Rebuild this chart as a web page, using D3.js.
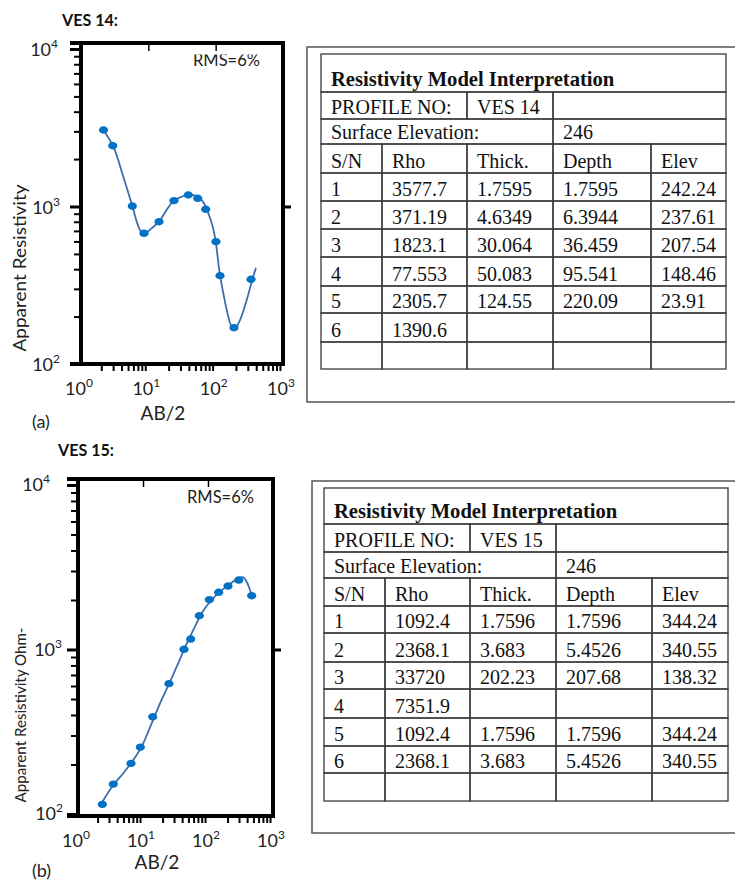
<!DOCTYPE html>
<html>
<head>
<meta charset="utf-8">
<script src="https://cdn.jsdelivr.net/npm/d3@7"></script>
<style>
body { margin: 0; background: #fff; }
</style>
</head>
<body>
<svg id="fig" width="735" height="880"></svg>
<script>
// ---- VES 14 : field data (AB/2, apparent resistivity) ----
const ves14AB  = [2.16, 2.96, 5.78, 8.63, 14.4, 24.0, 39.2, 54.1, 71.1, 101, 116, 187, 335];
const ves14Rho = [3060, 2432, 1007, 676, 801, 1089, 1183, 1127, 960, 598, 364, 170, 345];
// model curve
const ves14ModelAB  = [2.15, 3.02, 4.25, 5.78, 6.86, 7.97, 8.92, 11.2, 14.4, 18.7, 24.0, 31.3, 39.2, 49.3, 58.5, 67.1, 77.8, 90.4, 101, 113, 130, 154, 173, 194, 230, 289, 343, 397];
const ves14ModelRho = [3060, 2398, 1546, 1007, 782, 682, 676, 727, 801, 951, 1089, 1154, 1196, 1171, 1127, 1048, 906, 745, 584, 395, 281, 200, 173, 169, 190, 255, 333, 409];

// ---- VES 15 ----
const ves15AB  = [2.37, 3.49, 6.54, 9.09, 14.1, 25.1, 42.7, 54.2, 73.5, 105, 146, 203, 297, 470];
const ves15Rho = [114.5, 152, 203, 255, 390, 620, 1003, 1158, 1605, 2008, 2227, 2432, 2645, 2124];
const ves15ModelAB  = [2.18, 3.49, 4.98, 7.09, 9.55, 13.6, 18.3, 25.1, 33.0, 44.3, 59.4, 80.0, 107, 153, 218, 292, 349, 394, 443, 481];
const ves15ModelRho = [112.3, 150, 177, 213, 257, 356, 471, 617, 786, 1031, 1314, 1660, 1952, 2246, 2502, 2709, 2748, 2583, 2300, 2094];

// ticks
const xTickValues = [1, 10, 100, 1000];
const yTickValues = [100, 1000, 10000];

// ---- tables ----
const tableHeader = ['S/N', 'Rho', 'Thick.', 'Depth', 'Elev'];
const ves14Layers = [
  ['1', '3577.7', '1.7595', '1.7595', '242.24'],
  ['2', '371.19', '4.6349', '6.3944', '237.61'],
  ['3', '1823.1', '30.064', '36.459', '207.54'],
  ['4', '77.553', '50.083', '95.541', '148.46'],
  ['5', '2305.7', '124.55', '220.09', '23.91'],
  ['6', '1390.6', '', '', ''],
  ['', '', '', '', '']
];
const ves15Layers = [
  ['1', '1092.4', '1.7596', '1.7596', '344.24'],
  ['2', '2368.1', '3.683', '5.4526', '340.55'],
  ['3', '33720', '202.23', '207.68', '138.32'],
  ['4', '7351.9', '', '', ''],
  ['5', '1092.4', '1.7596', '1.7596', '344.24'],
  ['6', '2368.1', '3.683', '5.4526', '340.55'],
  ['', '', '', '', '']
];

const svg = d3.select('#fig');
const sans = 'Lato, "Open Sans", sans-serif';
const serif = '"Liberation Serif", "Times New Roman", serif';

function minorTicks(lo, hi){
  const out = [];
  for(let p = lo; p < hi; p *= 10){
    for(let k = 2; k <= 9; k++) out.push(p * k);
  }
  return out;
}

function drawChart(c){
  const g = svg.append('g');
  const x = d3.scaleLog().domain([1, 1000]).range([c.left, c.right]);
  const y = d3.scaleLog().domain([100, 10000]).range([c.y2, c.y4]);

  // left axis ticks
  const yAxisMinor = d3.axisLeft(y).tickValues(minorTicks(100, 10000)).tickSize(7).tickSizeOuter(0).tickFormat('');
  const yAxisMajor = d3.axisLeft(y).tickValues(yTickValues).tickSize(11).tickSizeOuter(0).tickFormat('');
  g.append('g').attr('transform', `translate(${c.left},0)`).call(yAxisMinor)
    .call(a => a.select('.domain').remove())
    .selectAll('line').attr('stroke', '#000').attr('stroke-width', 2);
  g.append('g').attr('transform', `translate(${c.left},0)`).call(yAxisMajor)
    .call(a => a.select('.domain').remove())
    .selectAll('line').attr('stroke', '#000').attr('stroke-width', 3);

  // bottom axis ticks
  const xAxisMinor = d3.axisBottom(x).tickValues(minorTicks(1, 1000)).tickSize(7).tickSizeOuter(0).tickFormat('');
  g.append('g').attr('transform', `translate(0,${c.bottom})`).call(xAxisMinor)
    .call(a => a.select('.domain').remove())
    .selectAll('line').attr('stroke', '#000').attr('stroke-width', 2);

  // top ticks (inward) and right tick (outward)
  g.append('g').attr('transform', `translate(0,${c.top})`)
    .call(d3.axisBottom(x).tickValues([10, 100]).tickSize(8).tickSizeOuter(0).tickFormat(''))
    .call(a => a.select('.domain').remove())
    .selectAll('line').attr('stroke', '#000').attr('stroke-width', 1.5);
  g.append('g').attr('transform', `translate(${c.right},0)`)
    .call(d3.axisRight(y).tickValues([1000]).tickSize(8).tickSizeOuter(0).tickFormat(''))
    .call(a => a.select('.domain').remove())
    .selectAll('line').attr('stroke', '#000').attr('stroke-width', 3);

  // frame
  const frame = [
    [c.left - 11, c.top, c.right + 2, c.top],
    [c.left - 11, c.bottom, c.right + 2, c.bottom],
    [c.left, c.top - 2, c.left, c.bottom + 2],
    [c.right, c.top - 2, c.right, c.bottom + 2]
  ];
  g.selectAll('.frame').data(frame).enter().append('line')
    .attr('x1', d => d[0]).attr('y1', d => d[1]).attr('x2', d => d[2]).attr('y2', d => d[3])
    .attr('stroke', '#000').attr('stroke-width', 4);

  // tick labels 10^n
  const xl = g.selectAll('.xl').data(xTickValues).enter().append('text')
    .attr('x', d => x(d) - 2).attr('y', c.xLabelY)
    .attr('text-anchor', 'middle')
    .style('font-family', sans).style('font-size', '18px').style('fill', '#222');
  xl.append('tspan').text('10');
  xl.append('tspan').attr('dy', -8).style('font-size', '12px').text(d => Math.round(Math.log10(d)));

  const yl = g.selectAll('.yl').data(yTickValues).enter().append('text')
    .attr('x', (d, i) => c.left - c.yLabelGap[i]).attr('y', d => y(d) + c.yLabelDy)
    .attr('text-anchor', 'end')
    .style('font-family', sans).style('font-size', '18px').style('fill', '#222');
  yl.append('tspan').text('10');
  yl.append('tspan').attr('dy', -8).style('font-size', '12px').text(d => Math.round(Math.log10(d)));

  // model curve
  const model = c.modelAB.map((d, i) => ({ab: d, rho: c.modelRho[i]}));
  const line = d3.line().x(d => x(d.ab)).y(d => y(d.rho)).curve(d3.curveCatmullRom);
  g.append('path').datum(model).attr('d', line)
    .attr('fill', 'none').attr('stroke', '#3d6ea8').attr('stroke-width', 1.8);

  // field points
  const pts = c.ab.map((d, i) => ({ab: d, rho: c.rho[i]}));
  g.selectAll('.pt').data(pts).enter().append('ellipse')
    .attr('cx', d => x(d.ab)).attr('cy', d => y(d.rho))
    .attr('rx', 4.6).attr('ry', 3.7).attr('fill', '#0071c5');

  // RMS label
  const clipId = 'clip' + c.id;
  g.append('clipPath').attr('id', clipId).append('rect')
    .attr('x', c.left).attr('y', c.rmsClipY).attr('width', c.right - c.left).attr('height', 60);
  g.append('text').attr('x', c.rmsX).attr('y', c.rmsY)
    .attr('clip-path', `url(#${clipId})`)
    .attr('textLength', 67).attr('lengthAdjust', 'spacingAndGlyphs')
    .style('font-family', sans).style('font-size', '17px').style('fill', '#222')
    .text('RMS=6%');

  // titles
  g.append('text').attr('x', c.titleX).attr('y', c.titleY)
    .attr('textLength', 56).attr('lengthAdjust', 'spacingAndGlyphs')
    .style('font-family', sans).style('font-size', '17px').style('font-weight', 'bold').style('fill', '#111')
    .text(c.title);
  g.append('text').attr('x', c.xTitleX).attr('y', c.xTitleY).attr('text-anchor', 'middle')
    .style('font-family', sans).style('font-size', '19px').style('fill', '#222').text('AB/2');
  g.append('text').attr('x', 32).attr('y', c.tagY)
    .style('font-family', sans).style('font-size', '18px').style('fill', '#222').text(c.tag);
  g.append('text').attr('transform', `translate(26,${c.yTitleY}) rotate(-90)`)
    .attr('text-anchor', 'middle')
    .attr('textLength', c.yTitleLen).attr('lengthAdjust', 'spacingAndGlyphs')
    .style('font-family', sans).style('font-size', c.yTitleSize).style('fill', '#222')
    .text(c.yTitle);
}

function drawTable(t){
  const g = svg.append('g');
  // outer box (runs off the right edge)
  g.append('rect').attr('x', t.box[0]).attr('y', t.box[1]).attr('width', 760 - t.box[0]).attr('height', t.box[2] - t.box[1])
    .attr('fill', 'none').attr('stroke', '#555').attr('stroke-width', 1.5);

  const cx = t.cols, ry = t.rows;
  const cells = [];
  cells.push({r: 0, c0: 0, c1: 5, text: 'Resistivity Model Interpretation', bold: true});
  cells.push({r: 1, c0: 0, c1: 2, text: 'PROFILE NO:'});
  cells.push({r: 1, c0: 2, c1: 3, text: t.profile});
  cells.push({r: 1, c0: 3, c1: 5, text: ''});
  cells.push({r: 2, c0: 0, c1: 3, text: 'Surface Elevation:'});
  cells.push({r: 2, c0: 3, c1: 5, text: t.elevation});
  tableHeader.forEach((h, i) => cells.push({r: 3, c0: i, c1: i + 1, text: h}));
  t.layers.forEach((row, j) => row.forEach((v, i) => cells.push({r: 4 + j, c0: i, c1: i + 1, text: v})));

  g.selectAll('.cell').data(cells).enter().append('rect')
    .attr('x', d => cx[d.c0]).attr('y', d => ry[d.r])
    .attr('width', d => cx[d.c1] - cx[d.c0]).attr('height', d => ry[d.r + 1] - ry[d.r])
    .attr('fill', 'none').attr('stroke', '#3a3a3a').attr('stroke-width', 1.3);

  g.selectAll('.txt').data(cells).enter().append('text')
    .attr('x', d => cx[d.c0] + 10).attr('y', d => ry[d.r + 1] - (d.bold ? 6 : 5))
    .style('font-family', serif).style('font-size', d => d.bold ? '20.6px' : '20px')
    .style('font-weight', d => d.bold ? 'bold' : 'normal').style('fill', '#111')
    .text(d => d.text);
}

drawChart({
  id: 'a', title: 'VES 14:', titleX: 62, titleY: 26, tag: '(a)', tagY: 428,
  left: 81, right: 283, top: 43, bottom: 364, y2: 364, y4: 49,
  xLabelY: 395, yLabelGap: [21, 21, 23], yLabelDy: 7,
  xTitleX: 163, xTitleY: 420,
  yTitle: 'Apparent Resistivity', yTitleY: 268, yTitleLen: 167, yTitleSize: '18px',
  rmsX: 193, rmsY: 66, rmsClipY: 54.5,
  ab: ves14AB, rho: ves14Rho, modelAB: ves14ModelAB, modelRho: ves14ModelRho
});
drawChart({
  id: 'b', title: 'VES 15:', titleX: 58, titleY: 456, tag: '(b)', tagY: 877,
  left: 78, right: 273, top: 479, bottom: 816, y2: 814, y4: 485,
  xLabelY: 847, yLabelGap: [15, 16, 28], yLabelDy: 6,
  xTitleX: 157, xTitleY: 869,
  yTitle: 'Apparent Resistivity Ohm-', yTitleY: 715, yTitleLen: 175, yTitleSize: '16px',
  rmsX: 187, rmsY: 503, rmsClipY: 480,
  ab: ves15AB, rho: ves15Rho, modelAB: ves15ModelAB, modelRho: ves15ModelRho
});

drawTable({
  box: [307, 47, 402], profile: 'VES 14', elevation: '246', layers: ves14Layers,
  cols: [321, 382, 467, 553, 651, 726],
  rows: [54, 92, 119, 144, 173, 201, 229, 257, 286, 313, 342, 369]
});
drawTable({
  box: [312, 481, 833], profile: 'VES 15', elevation: '246', layers: ves15Layers,
  cols: [324, 385, 470, 556, 652, 728],
  rows: [488, 524, 552, 578, 606, 633, 662, 689, 718, 746, 773, 801]
});
</script>
</body>
</html>
